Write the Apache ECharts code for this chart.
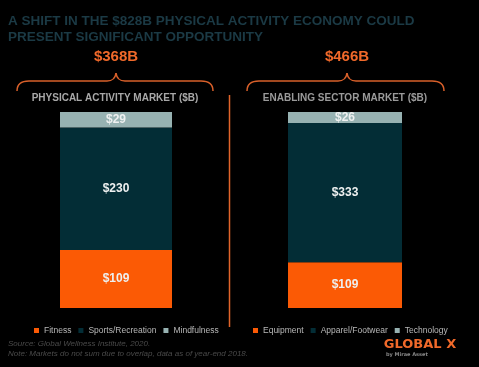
<!DOCTYPE html>
<html><head><meta charset="utf-8">
<script src="https://cdn.jsdelivr.net/npm/echarts@6/dist/echarts.min.js"></script>
<style>html,body{margin:0;padding:0;background:#000;}#c{width:479px;height:367px;}</style>
</head><body><div id="c"></div>
<script>
const leftNames = ['Fitness', 'Sports/Recreation', 'Mindfulness'];
const leftValues = [109, 230, 29];
const rightNames = ['Equipment', 'Apparel/Footwear', 'Technology'];
const rightValues = [109, 333, 26];
const totals = ['$368B', '$466B'];
const panelTitles = ['PHYSICAL ACTIVITY MARKET ($B)', 'ENABLING SECTOR MARKET ($B)'];
const colors = ['#fb5a05', '#032d36', '#97b2b2'];

const FONT = '"Liberation Sans", Arial, sans-serif';
const chart = echarts.init(document.getElementById('c'), null, {renderer: 'canvas'});
const sum = a => a.reduce((s, v) => s + v, 0);

function mk(names, values, idx) {
  return names.map((n, i) => ({
    name: n, type: 'bar', stack: 's' + idx, xAxisIndex: idx, yAxisIndex: idx,
    barWidth: '100%', data: [values[i]],
    itemStyle: {color: colors[i]},
    label: {show: true, position: 'inside', formatter: '${c}', color: '#eef0f0',
      fontWeight: 'bold', fontSize: 12, fontFamily: FONT}
  }));
}

function brace(x0, xc, x1, yTop, yBase, yEnd) {
  const st = {stroke: '#d9602a', lineWidth: 1.5, fill: null};
  const r = 12;
  return [
    {type: 'bezierCurve', shape: {x1: x0, y1: yEnd, cpx1: x0, cpy1: yBase, x2: x0 + r, y2: yBase}, style: st},
    {type: 'line', shape: {x1: x0 + r, y1: yBase, x2: xc - 9, y2: yBase}, style: st},
    {type: 'bezierCurve', shape: {x1: xc - 9, y1: yBase, cpx1: xc - 1, cpy1: yBase, x2: xc, y2: yTop}, style: st},
    {type: 'bezierCurve', shape: {x1: xc, y1: yTop, cpx1: xc + 1, cpy1: yBase, x2: xc + 9, y2: yBase}, style: st},
    {type: 'line', shape: {x1: xc + 9, y1: yBase, x2: x1 - r, y2: yBase}, style: st},
    {type: 'bezierCurve', shape: {x1: x1 - r, y1: yBase, cpx1: x1, cpy1: yBase, x2: x1, y2: yEnd}, style: st}
  ];
}

const legendCommon = {top: 321, width: 230, itemWidth: 5, itemHeight: 5, itemGap: 7, icon: 'rect',
  textStyle: {color: '#b8b8b8', fontSize: 8.5, fontFamily: FONT}};

const option = {
  backgroundColor: '#000',
  animation: false,
  grid: [
    {left: 60, top: 112, width: 112, height: 196},
    {left: 288, top: 112, width: 114, height: 196}
  ],
  xAxis: [0, 1].map(i => ({type: 'category', gridIndex: i, data: [''], show: false})),
  yAxis: [
    {type: 'value', gridIndex: 0, min: 0, max: sum(leftValues), show: false},
    {type: 'value', gridIndex: 1, min: 0, max: sum(rightValues), show: false}
  ],
  legend: [
    Object.assign({data: leftNames, left: 29}, legendCommon),
    Object.assign({data: rightNames, left: 248}, legendCommon)
  ],
  series: mk(leftNames, leftValues, 0).concat(mk(rightNames, rightValues, 1)),
  graphic: [
    {type: 'text', x: 8, y: 13, style: {text: 'A SHIFT IN THE $828B PHYSICAL ACTIVITY ECONOMY COULD\nPRESENT SIGNIFICANT OPPORTUNITY',
      fill: '#1b3a45', font: 'bold 13.5px ' + FONT, lineHeight: 16}},
    {type: 'text', x: 116, y: 57, style: {text: totals[0], fill: '#f0692a', font: 'bold 15px ' + FONT, align: 'center', verticalAlign: 'middle'}},
    {type: 'text', x: 347, y: 57, style: {text: totals[1], fill: '#f0692a', font: 'bold 15px ' + FONT, align: 'center', verticalAlign: 'middle'}},
    {type: 'text', x: 115, y: 98, style: {text: panelTitles[0], fill: '#a8a8a8', font: 'bold 10px ' + FONT, align: 'center', verticalAlign: 'middle'}},
    {type: 'text', x: 345, y: 98, style: {text: panelTitles[1], fill: '#9a9a9a', font: 'bold 10px ' + FONT, align: 'center', verticalAlign: 'middle'}},
    {type: 'line', shape: {x1: 229.5, y1: 95, x2: 229.5, y2: 327}, style: {stroke: '#e0642a', lineWidth: 1.5}},
    {type: 'text', x: 8, y: 339, style: {text: 'Source: Global Wellness Institute, 2020.\nNote: Markets do not sum due to overlap, data as of year-end 2018.',
      fill: '#4a4a4a', font: 'italic 8px ' + FONT, lineHeight: 10}},
    {type: 'text', x: 420, y: 345, style: {text: 'GLOBAL X', fill: '#f0692a', font: 'bold 13px "DejaVu Sans", sans-serif', align: 'center', verticalAlign: 'middle'}},
    {type: 'text', x: 386, y: 355, style: {text: 'by Mirae Asset', fill: '#888', font: 'bold 5px "DejaVu Sans", sans-serif', verticalAlign: 'middle'}}
  ].concat(brace(17, 116, 213, 73, 81, 91), brace(247, 347, 444, 73, 81, 91))
};
chart.setOption(option);
</script></body></html>
